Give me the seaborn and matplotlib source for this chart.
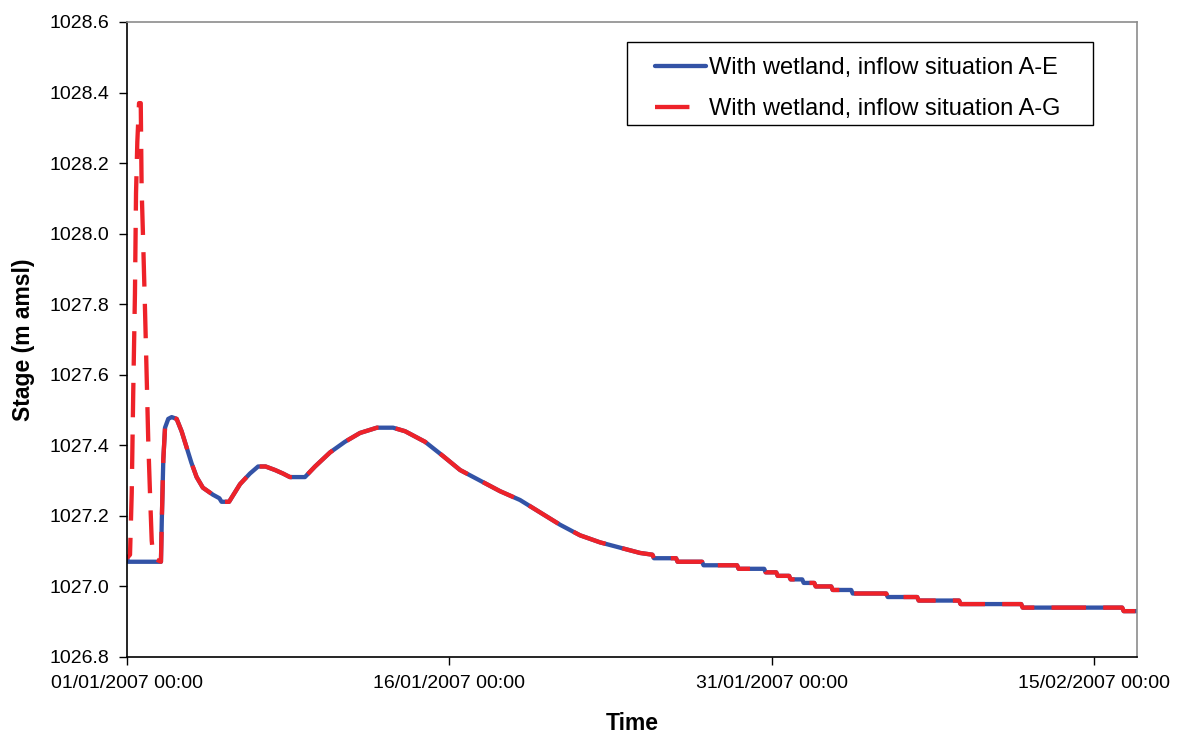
import numpy as np
import pandas as pd
import matplotlib
matplotlib.use("Agg")
import matplotlib.pyplot as plt
import matplotlib.dates as mdates
from matplotlib.lines import Line2D
from matplotlib.patches import Rectangle
import seaborn as sns

# ---------------- data (days since 01/01/2007 00:00, stage m amsl) -------------
days_ae = [0.00, 0.05, 1.58, 1.62, 1.69, 1.77, 1.92, 2.08, 2.31, 2.54, 2.77, 3.00,
           3.24, 3.53, 4.00, 4.30, 4.40, 4.75, 5.26, 5.72, 6.10, 6.45, 6.89, 7.26,
           7.58, 8.28, 8.75, 9.45, 10.14, 10.84, 11.63, 12.38, 12.94, 13.87, 14.70,
           15.50, 16.43, 17.36, 18.29, 19.22, 20.15, 21.08, 22.01, 22.94, 23.87,
           24.45, 24.52, 25.55, 25.62, 26.76, 26.83, 28.39, 28.46, 29.65, 29.72,
           30.21, 30.28, 30.81, 30.88, 31.42, 31.49, 31.98, 32.05, 32.77, 32.84,
           33.70, 33.77, 35.33, 35.40, 36.77, 36.84, 38.72, 38.79, 41.61, 41.68,
           46.31, 46.38, 47.00]
stage_ae = [1027.08, 1027.07, 1027.07, 1027.19, 1027.36, 1027.45, 1027.475, 1027.48,
            1027.475, 1027.44, 1027.395, 1027.35, 1027.31, 1027.28, 1027.26, 1027.25,
            1027.24, 1027.24, 1027.29, 1027.32, 1027.34, 1027.34, 1027.33, 1027.32,
            1027.31, 1027.31, 1027.34, 1027.38, 1027.41, 1027.435, 1027.45, 1027.45,
            1027.44, 1027.41, 1027.37, 1027.33, 1027.30, 1027.27, 1027.245, 1027.21,
            1027.175, 1027.145, 1027.125, 1027.11, 1027.095,
            1027.09, 1027.08, 1027.08, 1027.07, 1027.07, 1027.06, 1027.06, 1027.05,
            1027.05, 1027.04, 1027.04, 1027.03, 1027.03, 1027.02, 1027.02, 1027.01,
            1027.01, 1027.00, 1027.00, 1026.99, 1026.99, 1026.98, 1026.98, 1026.97,
            1026.97, 1026.96, 1026.96, 1026.95, 1026.95, 1026.94, 1026.94, 1026.93,
            1026.93]

# A-G differs only during the first ~1.6 days, then coincides with A-E
days_ag_early = [0.00, 0.14, 0.22, 0.29, 0.37, 0.42, 0.48, 0.56, 0.64, 0.68, 0.76,
                 0.84, 0.92, 0.99, 1.07, 1.15, 1.23, 1.58]
stage_ag_early = [1027.08, 1027.09, 1027.265, 1027.55, 1027.83, 1028.115, 1028.26,
                  1028.37, 1028.37, 1028.13, 1027.96, 1027.78, 1027.585, 1027.41,
                  1027.265, 1027.13, 1027.08, 1027.07]

labels = ["With wetland, inflow situation A-E", "With wetland, inflow situation A-G"]
yticks = [1026.8, 1027.0, 1027.2, 1027.4, 1027.6, 1027.8, 1028.0, 1028.2, 1028.4, 1028.6]
xtick_dates = ["2007-01-01", "2007-01-16", "2007-01-31", "2007-02-15"]

# ---------------- build frames -------------
t0 = pd.Timestamp("2007-01-01 00:00")
df_ae = pd.DataFrame({"time": t0 + pd.to_timedelta(days_ae, unit="D"), "stage": stage_ae})
tail = [(d, s) for d, s in zip(days_ae, stage_ae) if d >= 1.62]
days_ag = days_ag_early + [d for d, _ in tail]
stage_ag = stage_ag_early + [s for _, s in tail]
df_ag = pd.DataFrame({"time": t0 + pd.to_timedelta(days_ag, unit="D"), "stage": stage_ag})

# ---------------- style -------------
sns.set_style("white")
plt.rcParams["font.family"] = ["Liberation Sans", "DejaVu Sans"]
plt.rcParams["text.color"] = "black"
plt.rcParams["axes.labelcolor"] = "black"
plt.rcParams["xtick.color"] = "black"
plt.rcParams["ytick.color"] = "black"

blue = "#3353A6"
red = "#EE2229"
lw = 3.1

fig = plt.figure(figsize=(11.77, 7.34), dpi=100)
ax = fig.add_axes([127 / 1177, 1 - 657 / 734, (1137 - 127) / 1177, (657 - 22) / 734])

sns.lineplot(data=df_ae, x="time", y="stage", ax=ax, color=blue, lw=lw,
             estimator=None, sort=False)
sns.lineplot(data=df_ag, x="time", y="stage", ax=ax, color=red, lw=lw,
             estimator=None, sort=False)
ax.lines[-1].set_linestyle((3, (8, 4)))
ax.lines[-1].set_dash_capstyle("butt")

ax.set_xlim(t0, pd.Timestamp("2007-02-17 00:00"))
ax.set_ylim(1026.8, 1028.6)
ax.set_yticks(yticks)
ax.yaxis.set_major_formatter(matplotlib.ticker.FormatStrFormatter("%.1f"))
ax.set_xticks([pd.Timestamp(d) for d in xtick_dates])
ax.xaxis.set_major_formatter(mdates.DateFormatter("%d/%m/%Y %H:%M"))

ax.tick_params(axis="both", which="major", direction="out", length=6, width=1,
               color="black", labelcolor="black", labelsize=14, pad=7,
               left=True, bottom=True)
for s in ["left", "bottom"]:
    ax.spines[s].set_color("black")
    ax.spines[s].set_linewidth(1.2)
for s in ["top", "right"]:
    ax.spines[s].set_color("#8c8c8c")
    ax.spines[s].set_linewidth(1.2)

ax.set_xlabel("Time", fontsize=16.5, fontweight="bold", labelpad=14, color="black")
ax.set_ylabel("Stage (m amsl)", fontsize=16.5, fontweight="bold", labelpad=10,
              color="black")

# legend frame and entries
ax.add_patch(Rectangle(((627 - 127) / 1010, (657 - 125) / 635), (1093 - 627) / 1010,
                       (125 - 42) / 635, transform=ax.transAxes, fill=False,
                       edgecolor="black", lw=1.0, zorder=5))
handles = [Line2D([], [], color=blue, lw=lw),
           Line2D([], [], color=red, lw=lw, dashes=[8, 8], dash_capstyle="butt")]
leg = ax.legend(handles, labels, loc="upper left",
                bbox_to_anchor=((655 - 127) / 1010, (657 - 57) / 635),
                frameon=False, fontsize=17, handlelength=2.15, handletextpad=0.15,
                borderpad=0, borderaxespad=0, labelspacing=0.8)
for t in leg.get_texts():
    t.set_color("black")

fig.savefig("out.png", dpi=100)
